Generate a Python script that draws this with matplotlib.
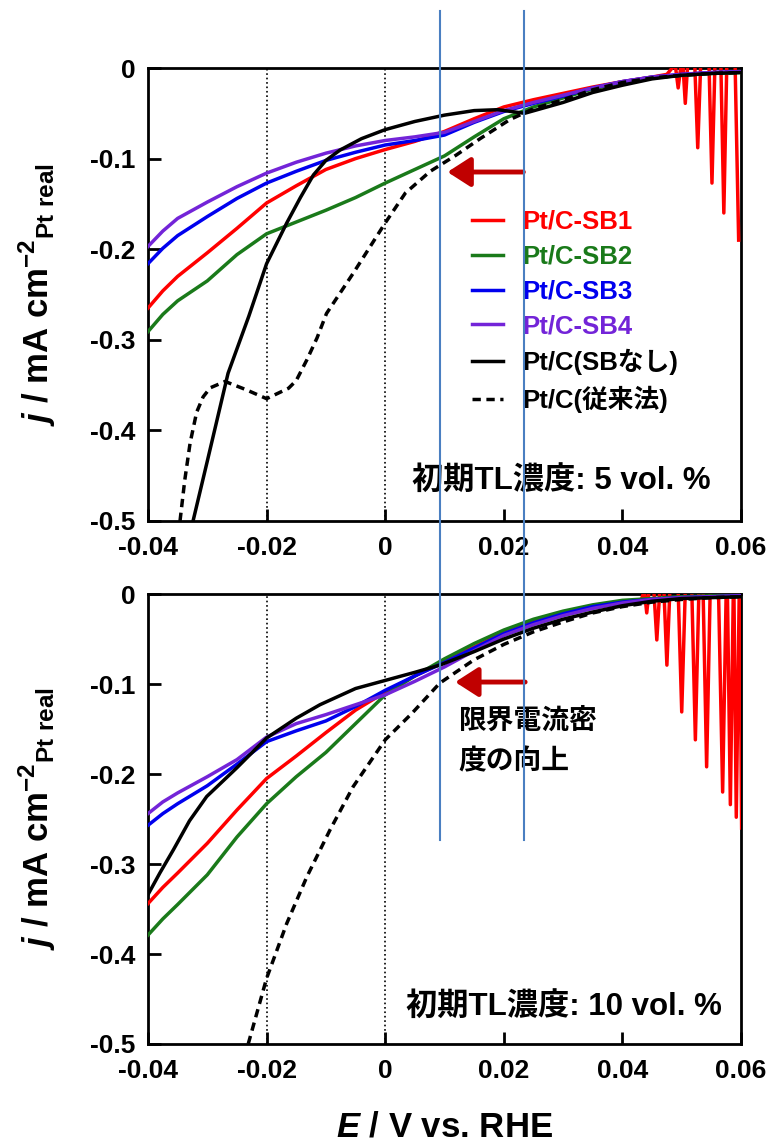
import matplotlib
matplotlib.use("Agg")
import matplotlib.pyplot as plt
from matplotlib.lines import Line2D
from matplotlib.transforms import blended_transform_factory

plt.rcParams['font.family'] = ['Liberation Sans', 'Noto Sans CJK JP']
plt.rcParams['font.weight'] = 'bold'
plt.rcParams['axes.unicode_minus'] = False
plt.rcParams['mathtext.fontset'] = 'custom'
plt.rcParams['mathtext.rm'] = 'Liberation Sans:bold'
plt.rcParams['mathtext.it'] = 'Liberation Sans:italic:bold'
plt.rcParams['mathtext.bf'] = 'Liberation Sans:bold'

# ---- data (E in V vs. RHE, j in mA cm-2) ----
E_grid = [-0.04, -0.0375, -0.035, -0.03, -0.025, -0.02, -0.015, -0.01, -0.005, 0.0,
          0.005, 0.01, 0.015, 0.02, 0.025, 0.03, 0.035, 0.04, 0.045, 0.05,
          0.055, 0.06]

# 5 vol.% panel
top_sb4 = [-0.197, -0.180, -0.166, -0.148, -0.131, -0.116, -0.104, -0.094, -0.086,
           -0.080, -0.076, -0.071, -0.059, -0.047, -0.038, -0.030, -0.022, -0.015,
           -0.010, -0.007, -0.005, -0.004]
top_sb3 = [-0.216, -0.199, -0.185, -0.164, -0.144, -0.127, -0.114, -0.102, -0.093,
           -0.085, -0.080, -0.074, -0.060, -0.048, -0.039, -0.031, -0.022, -0.015,
           -0.010, -0.007, -0.005, -0.004]
top_sb2 = [-0.291, -0.272, -0.257, -0.235, -0.206, -0.183, -0.170, -0.157, -0.143,
           -0.127, -0.112, -0.097, -0.076, -0.056, -0.043, -0.033, -0.023, -0.016,
           -0.011, -0.008, -0.006, -0.005]
top_sb1_E = E_grid[:19] + [0.0475, 0.0489, 0.0494, 0.0499, 0.0502, 0.0506, 0.0510,
                           0.0522, 0.0527, 0.0532, 0.0546, 0.0551, 0.0556, 0.0566,
                           0.0571, 0.0576, 0.0590, 0.0596]
top_sb1 = [-0.265, -0.246, -0.230, -0.204, -0.177, -0.149, -0.130, -0.112, -0.100,
           -0.090, -0.081, -0.070, -0.056, -0.043, -0.035, -0.028, -0.021, -0.015,
           -0.010,
           -0.007, 0.004, -0.022, 0.004, 0.004, -0.039, 0.004, 0.004, -0.088, 0.004,
           0.004, -0.127, 0.004, 0.004, -0.160, 0.004, 0.004, -0.190]
top_none_E = [-0.0324, -0.03, -0.0265, -0.023, -0.02, -0.0166, -0.0143, -0.0121,
              -0.01, -0.0076, -0.004, 0.0, 0.005, 0.01, 0.015, 0.019, 0.0235, 0.03,
              0.035, 0.04, 0.045, 0.05, 0.055, 0.06]
top_none = [-0.5, -0.434, -0.337, -0.274, -0.216, -0.171, -0.143, -0.118, -0.102,
            -0.0905, -0.078, -0.068, -0.059, -0.052, -0.047, -0.046, -0.050, -0.038,
            -0.027, -0.019, -0.012, -0.008, -0.006, -0.005]
top_conv_E = [-0.0346, -0.0338, -0.0329, -0.0318, -0.0307, -0.0295, -0.027, -0.0235,
              -0.02, -0.0163, -0.015, -0.0132, -0.0115, -0.0099, -0.0054, 0.0, 0.0034,
              0.0076, 0.012, 0.016, 0.021, 0.025, 0.03, 0.035, 0.04, 0.045, 0.05,
              0.055, 0.06]
top_conv = [-0.5, -0.455, -0.414, -0.38, -0.363, -0.353, -0.346, -0.355, -0.365,
            -0.3535, -0.345, -0.322, -0.298, -0.271, -0.2266, -0.171, -0.138, -0.114,
            -0.096, -0.078, -0.057, -0.045, -0.035, -0.024, -0.016, -0.011, -0.008,
            -0.006, -0.005]

# 10 vol.% panel
bot_sb4 = [-0.244, -0.231, -0.221, -0.203, -0.184, -0.159, -0.144, -0.134, -0.123,
           -0.112, -0.097, -0.081, -0.063, -0.046, -0.034, -0.024, -0.016, -0.010,
           -0.006, -0.004, -0.003, -0.002]
bot_sb3 = [-0.257, -0.244, -0.233, -0.213, -0.189, -0.164, -0.152, -0.141, -0.125,
           -0.107, -0.091, -0.076, -0.060, -0.044, -0.032, -0.022, -0.014, -0.009,
           -0.006, -0.004, -0.003, -0.002]
bot_sb2 = [-0.379, -0.361, -0.345, -0.312, -0.270, -0.233, -0.203, -0.176, -0.144,
           -0.112, -0.091, -0.072, -0.055, -0.040, -0.028, -0.019, -0.012, -0.007,
           -0.005, -0.003, -0.002, -0.002]
bot_sb1_E = E_grid[:18] + [0.0432, 0.0437, 0.0441, 0.0445, 0.0453, 0.0458, 0.0463,
                           0.0470, 0.0475, 0.0480, 0.0494, 0.0500, 0.0506, 0.0517,
                           0.0523, 0.0529, 0.0536, 0.0542, 0.0548, 0.0562, 0.0569,
                           0.0575, 0.0577, 0.0582, 0.0587, 0.0588, 0.0592, 0.0597,
                           0.0598, 0.0601]
bot_sb1 = [-0.344, -0.326, -0.310, -0.277, -0.240, -0.205, -0.180, -0.154, -0.129,
           -0.109, -0.091, -0.075, -0.059, -0.043, -0.031, -0.021, -0.014, -0.009,
           -0.006, 0.004, -0.021, 0.004, 0.004, -0.051, 0.004, 0.004, -0.079, 0.004,
           0.004, -0.131, 0.004, 0.004, -0.162, 0.004, 0.004, -0.192, 0.004, 0.004,
           -0.220, 0.004, 0.004, -0.234, 0.004, 0.004, -0.248, 0.004, 0.004, -0.260]
bot_none_E = [-0.04, -0.038, -0.0357, -0.033, -0.0301, -0.025, -0.02, -0.015, -0.011,
              -0.005, 0.0, 0.005, 0.0092, 0.015, 0.02, 0.025, 0.03, 0.035, 0.04,
              0.045, 0.05, 0.055, 0.06]
bot_none = [-0.334, -0.310, -0.284, -0.252, -0.225, -0.193, -0.160, -0.138, -0.123,
            -0.105, -0.096, -0.087, -0.079, -0.064, -0.050, -0.038, -0.028, -0.020,
            -0.013, -0.008, -0.005, -0.004, -0.003]
bot_conv_E = [-0.0231, -0.02, -0.0166, -0.0132, -0.0093, -0.0054, 0.0, 0.0045,
              0.0092, 0.015, 0.02, 0.025, 0.03, 0.035, 0.04, 0.045, 0.05, 0.055, 0.06]
bot_conv = [-0.5, -0.427, -0.366, -0.314, -0.262, -0.214, -0.162, -0.1326, -0.099,
            -0.073, -0.056, -0.042, -0.031, -0.021, -0.014, -0.009, -0.006, -0.004,
            -0.003]

labels = ['Pt/C-SB1', 'Pt/C-SB2', 'Pt/C-SB3', 'Pt/C-SB4', 'Pt/C(SBなし)', 'Pt/C(従来法)']
colors = ['#ff0000', '#1a7a1a', '#0000ee', '#7324d8', 'black', 'black']
conc_labels = ['初期TL濃度: 5 vol. %', '初期TL濃度: 10 vol. %']

x_ticks = [-0.04, -0.02, 0, 0.02, 0.04, 0.06]
x_ticklabels = ['-0.04', '-0.02', '0', '0.02', '0.04', '0.06']
y_ticks = [0, -0.1, -0.2, -0.3, -0.4, -0.5]
y_ticklabels = ['0', '-0.1', '-0.2', '-0.3', '-0.4', '-0.5']
guide_E = [-0.02, 0.0]          # dotted guides
marker_E = [0.0093, 0.0234]     # blue vertical markers

fig = plt.figure(figsize=(7.74, 11.47), dpi=100)
ax1 = fig.add_axes([0.1912, 0.5458, 0.7662, 0.3949])
ax2 = fig.add_axes([0.1912, 0.0898, 0.7662, 0.3923])

panels = [
    (ax1, [(top_sb1_E, top_sb1), (E_grid, top_sb2), (E_grid, top_sb3),
           (E_grid, top_sb4), (top_none_E, top_none), (top_conv_E, top_conv)]),
    (ax2, [(bot_sb1_E, bot_sb1), (E_grid, bot_sb2), (E_grid, bot_sb3),
           (E_grid, bot_sb4), (bot_none_E, bot_none), (bot_conv_E, bot_conv)]),
]

for ax, series in panels:
    for g in guide_E:
        ax.axvline(g, color='black', ls=':', lw=1.2, zorder=1)
    for i, (xs, ys) in enumerate(series):
        ls = (0, (2.4, 1.6)) if i == 5 else '-'
        ax.plot(xs, ys, color=colors[i], lw=2.5, ls=ls, label=labels[i], zorder=3)
    ax.set_xlim(-0.04, 0.06)
    ax.set_ylim(-0.5, 0)
    ax.set_xticks(x_ticks)
    ax.set_xticklabels(x_ticklabels)
    ax.set_yticks(y_ticks)
    ax.set_yticklabels(y_ticklabels)
    ax.tick_params(direction='in', length=9, width=2, labelsize=19)
    ax.tick_params(axis='x', pad=11)
    ax.tick_params(axis='y', pad=9)
    for s in ax.spines.values():
        s.set_linewidth(2)
    ax.set_ylabel(r'$\mathit{j}$ / mA cm$^{-2}$$_{\mathrm{Pt\ real}}$', fontsize=25,
                  fontweight='bold')
    ax.yaxis.set_label_coords(-0.152, 0.5)

ax1.text(0.948, 0.088, conc_labels[0], transform=ax1.transAxes, ha='right',
         va='center', fontsize=22.5, fontweight='bold')
ax2.text(0.968, 0.082, conc_labels[1], transform=ax2.transAxes, ha='right',
         va='center', fontsize=22.5, fontweight='bold')

leg = ax1.legend(loc='upper left', bbox_to_anchor=(0.525, 0.715), frameon=False,
                 fontsize=18.5, handlelength=1.2, handletextpad=0.75,
                 labelspacing=0.42, borderpad=0, labelcolor='linecolor')
for t in leg.get_texts():
    t.set_fontweight('bold')

ax2.set_xlabel(r'$\mathit{E}$ / V vs. RHE', fontsize=25, fontweight='bold')
ax2.xaxis.set_label_coords(0.5, -0.148)

# arrows toward the improved limiting current
arrow_kw = dict(arrowstyle='-|>,head_length=0.7,head_width=0.45', color='#c00000',
                lw=3.5, mutation_scale=20, shrinkA=0, shrinkB=0)
ax1.annotate('', xy=(0.0105, -0.1148), xytext=(0.0233, -0.1148), arrowprops=arrow_kw)
ax2.annotate('', xy=(0.0118, -0.0978), xytext=(0.0236, -0.0978), arrowprops=arrow_kw)

ax2.text(0.0124, -0.164, '限界電流密\n度の向上', fontsize=20, fontweight='bold',
         style='italic', ha='left', va='center', linespacing=1.7)

# blue marker lines spanning both panels
tr = blended_transform_factory(ax1.transData, fig.transFigure)
for m in marker_E:
    fig.add_artist(Line2D([m, m], [0.990, 0.2677], transform=tr, color='#4a7fc1',
                          lw=1.5, zorder=10))

fig.savefig('out.png', dpi=100)
